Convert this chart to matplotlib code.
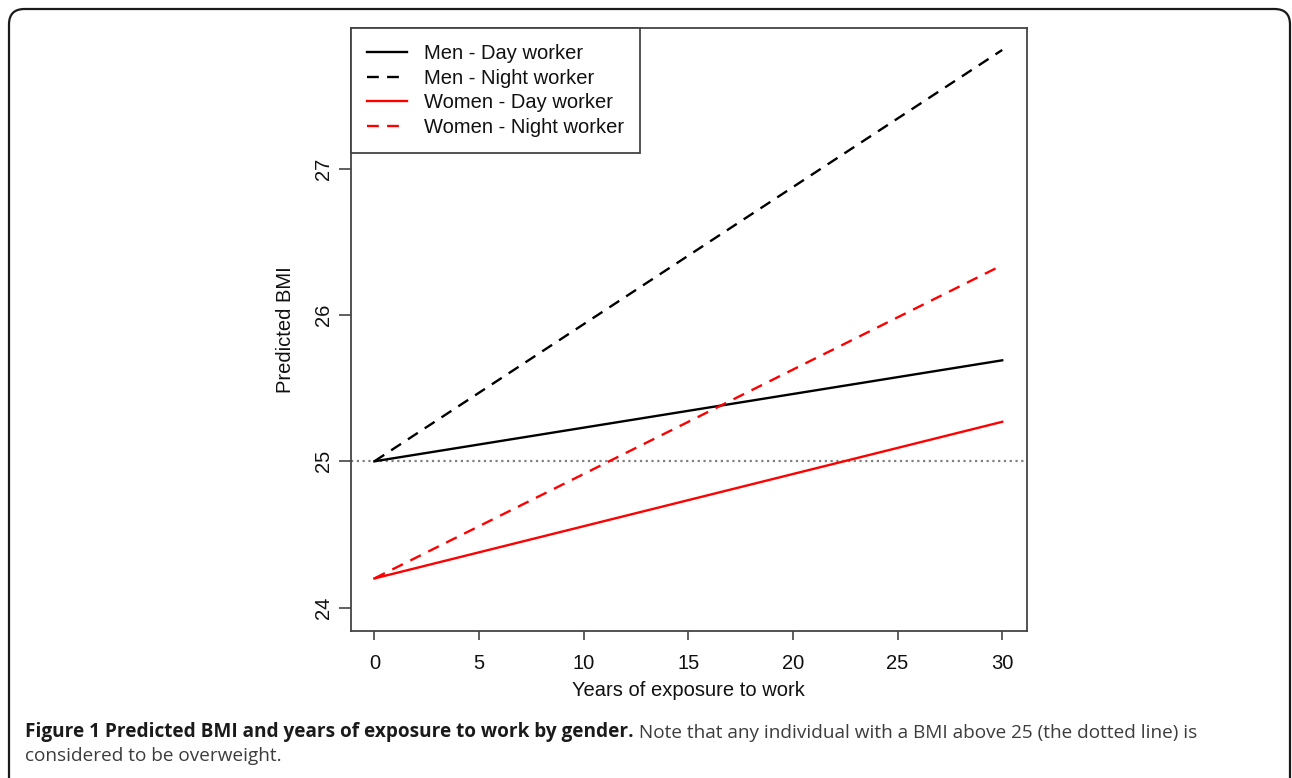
import matplotlib
matplotlib.use("Agg")
import matplotlib.pyplot as plt
from matplotlib.patches import FancyBboxPatch
import numpy as np

W, H = 1292, 778

# predicted BMI at 0 and 30 years of exposure
years = [0, 30]
men_day = [25.0, 25.69]
men_night = [25.0, 27.81]
women_day = [24.2, 25.27]
women_night = [24.2, 26.34]

series_labels = ["Men - Day worker", "Men - Night worker",
                 "Women - Day worker", "Women - Night worker"]
xticks = [0, 5, 10, 15, 20, 25, 30]
yticks = [24, 25, 26, 27]
overweight = 25

caption_bold = "Figure 1 Predicted BMI and years of exposure to work by gender."
caption_rest = " Note that any individual with a BMI above 25 (the dotted line) is"
caption_line2 = "considered to be overweight."

plt.rcParams["font.family"] = ["Liberation Sans", "DejaVu Sans"]

fig = plt.figure(figsize=(W / 100, H / 100), dpi=100)

# rounded outer frame
box = FancyBboxPatch((9 / W, -0.05), (1290 - 9) / W, (1 - 9 / H) + 0.05,
                     boxstyle="round,pad=0,rounding_size=0.012",
                     transform=fig.transFigure, fill=False,
                     edgecolor="#1a1a1a", linewidth=1.6, mutation_aspect=W / H)
fig.patches.append(box)

left, right, top, bottom = 350.7, 1026.7, 28.3, 630.7
ax = fig.add_axes([left / W, 1 - bottom / H, (right - left) / W, (bottom - top) / H])

lw = 1.7
dash = (0, (5, 3.5))
ax.plot(years, men_day, color="black", lw=lw, label=series_labels[0])
ax.plot(years, men_night, color="black", lw=lw, linestyle=dash, label=series_labels[1])
ax.plot(years, women_day, color="#ff0000", lw=lw, label=series_labels[2])
ax.plot(years, women_night, color="#ff0000", lw=lw, linestyle=dash, label=series_labels[3])
ax.axhline(overweight, color="#808080", lw=1.6, linestyle=(0, (1, 1.6)), zorder=1)

ax.set_xlim(-1.13, 31.17)
ax.set_ylim(23.843, 27.958)
ax.set_xticks(xticks)
ax.set_yticks(yticks)
ax.set_yticklabels([str(t) for t in yticks], rotation=90, va="center")

for s in ax.spines.values():
    s.set_color("#444444")
    s.set_linewidth(1.3)

ax.tick_params(axis="x", length=6.7, width=1.2, color="#444444", pad=10,
               labelsize=14.5, labelcolor="#111111")
ax.tick_params(axis="y", length=8.5, width=1.2, color="#444444", pad=4,
               labelsize=14.5, labelcolor="#111111")

ax.set_xlabel("Years of exposure to work", fontsize=14.5, color="#111111", labelpad=6)
ax.set_ylabel("Predicted BMI", fontsize=14.5, color="#111111", labelpad=14)

leg = ax.legend(loc="upper left", bbox_to_anchor=(0, 1), borderaxespad=0,
                fancybox=False, edgecolor="#444444", framealpha=1,
                fontsize=14.5, handlelength=2.0, handletextpad=0.85,
                labelspacing=0.27, borderpad=0.8)
leg.get_frame().set_linewidth(1.3)
for t in leg.get_texts():
    t.set_color("#111111")

# caption below the plot
cap_font = ["Open Sans", "DejaVu Sans"]
cap_size = 13.7
y1 = 1 - 737.5 / H
y2 = 1 - 761.0 / H
tb = fig.text(25 / W, y1, caption_bold, fontsize=cap_size, fontweight="bold",
              family=cap_font, color="#1a1a1a", va="baseline")
renderer = fig.canvas.get_renderer()
bb = tb.get_window_extent(renderer)
fig.text(bb.x1 / W, y1, caption_rest, fontsize=cap_size, family=cap_font,
         color="#3c3c3c", va="baseline")
fig.text(25 / W, y2, caption_line2, fontsize=cap_size, family=cap_font,
         color="#3c3c3c", va="baseline")

fig.savefig("out.png", dpi=100)
